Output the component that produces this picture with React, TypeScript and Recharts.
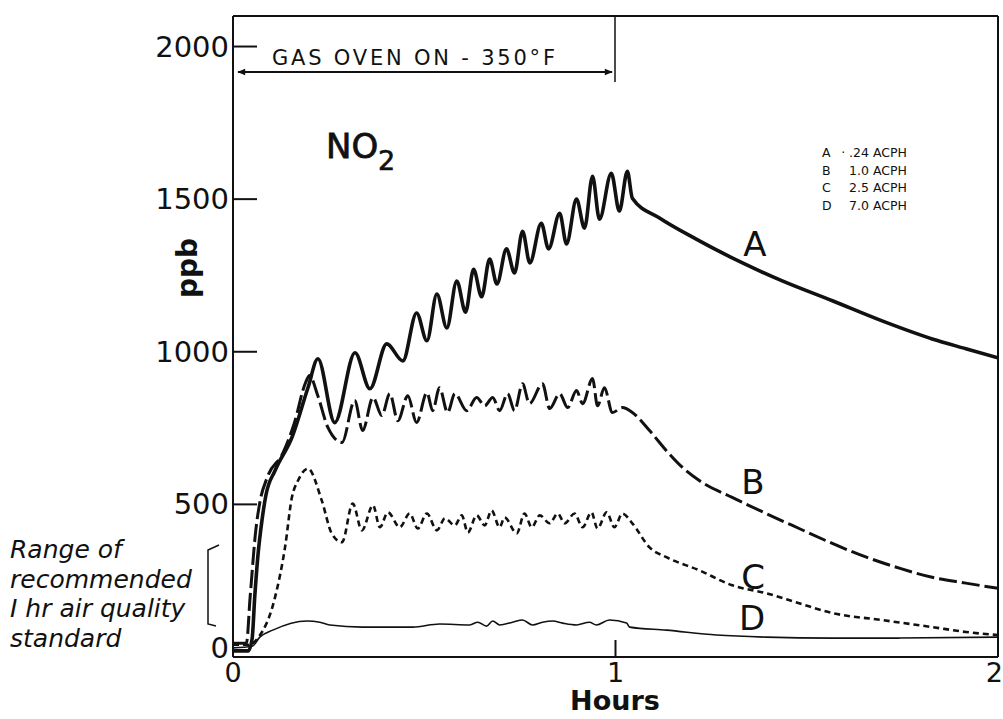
import { LineChart, Line, XAxis, YAxis } from "recharts"

// hours vs ppb
const seriesA: [number, number][] = [
  [0, 20], [0.04, 20], [0.05, 60], [0.057, 200], [0.065, 330], [0.076, 450], [0.086, 530],
  [0.11, 611], [0.154, 719], [0.196, 882], [0.222, 977], [0.266, 768], [0.319, 997],
  [0.358, 879], [0.402, 1026], [0.444, 970], [0.48, 1127], [0.507, 1036], [0.533, 1189],
  [0.559, 1078], [0.585, 1232], [0.608, 1130], [0.629, 1270], [0.65, 1180], [0.671, 1304],
  [0.69, 1222], [0.715, 1337], [0.736, 1258], [0.757, 1395], [0.776, 1291], [0.806, 1421],
  [0.825, 1337], [0.854, 1454], [0.872, 1353], [0.898, 1500], [0.919, 1405], [0.94, 1575],
  [0.958, 1434], [0.989, 1585], [1.01, 1461], [1.031, 1591], [1.044, 1503], [1.115, 1438],
  [1.211, 1369], [1.332, 1291], [1.436, 1232], [1.567, 1167], [1.697, 1101], [1.828, 1042],
  [1.916, 1010], [2.0, 980],
]

const seriesB: [number, number][] = [
  [0, 45], [0.035, 45], [0.045, 200], [0.06, 420], [0.07, 505], [0.09, 590], [0.13, 667],
  [0.16, 765], [0.19, 900], [0.2, 922], [0.222, 855], [0.248, 752], [0.285, 703], [0.318, 840],
  [0.339, 742], [0.366, 850], [0.389, 791], [0.41, 863], [0.431, 774], [0.457, 856],
  [0.48, 768], [0.507, 866], [0.522, 807], [0.54, 882], [0.561, 801], [0.58, 863],
  [0.611, 807], [0.637, 850], [0.658, 823], [0.679, 850], [0.697, 807], [0.718, 863],
  [0.736, 807], [0.757, 895], [0.775, 830], [0.809, 895], [0.828, 814], [0.854, 863],
  [0.875, 817], [0.898, 873], [0.914, 830], [0.94, 912], [0.953, 823], [0.971, 882],
  [0.992, 801], [1.018, 817], [1.044, 801], [1.089, 742], [1.133, 676], [1.175, 621],
  [1.219, 578], [1.305, 523], [1.394, 470], [1.48, 421], [1.567, 372], [1.656, 327],
  [1.742, 291], [1.828, 261], [1.916, 242], [2.0, 225],
]

const seriesC: [number, number][] = [
  [0, 40], [0.04, 40], [0.065, 62], [0.11, 196], [0.136, 359], [0.154, 523], [0.17, 578],
  [0.196, 617], [0.232, 513], [0.258, 405], [0.285, 376], [0.313, 503], [0.337, 415],
  [0.366, 497], [0.384, 425], [0.405, 474], [0.436, 425], [0.462, 470], [0.483, 421],
  [0.507, 470], [0.533, 415], [0.554, 454], [0.58, 431], [0.598, 464], [0.614, 408],
  [0.637, 464], [0.658, 431], [0.676, 480], [0.697, 425], [0.71, 457], [0.742, 405],
  [0.762, 470], [0.781, 425], [0.802, 464], [0.828, 438], [0.849, 470], [0.867, 438],
  [0.893, 470], [0.914, 425], [0.937, 474], [0.953, 421], [0.977, 474], [0.997, 425],
  [1.018, 470], [1.044, 438], [1.089, 359], [1.133, 327], [1.219, 284], [1.305, 235],
  [1.394, 209], [1.48, 176], [1.567, 144], [1.697, 121], [1.828, 98], [1.916, 82], [2.0, 72],
]

const seriesD: [number, number][] = [
  [0, 30], [0.05, 35], [0.07, 65], [0.104, 88], [0.193, 118], [0.227, 114], [0.253, 105],
  [0.339, 98], [0.47, 98], [0.54, 108], [0.619, 105], [0.64, 114], [0.663, 101], [0.679, 118],
  [0.697, 105], [0.731, 114], [0.757, 121], [0.783, 105], [0.809, 114], [0.836, 118],
  [0.862, 111], [0.898, 105], [0.932, 114], [0.95, 105], [0.984, 121], [1.029, 111],
  [1.037, 98], [1.133, 88], [1.264, 72], [1.394, 65], [1.567, 62], [1.742, 62], [2.0, 65],
]

const hourTicks = [0, 1, 2]
const ppbTicks = [0, 500, 1000, 1500, 2000]
const rightTicks = [500, 1000, 1500]
const legendRows = [
  ["A", "· .24", "ACPH"],
  ["B", "1.0", "ACPH"],
  ["C", "2.5", "ACPH"],
  ["D", "7.0", "ACPH"],
]
const noteLines = ["Range of", "recommended", "I hr air quality", "standard"]

const ink = "#111"
const font = "DejaVu Sans"

const toRows = (pts: [number, number][]) => pts.map(([h, ppb]) => ({ h, ppb }))

function LeftTick({ x, y, payload }: any) {
  const v = payload.value
  return (
    <g>
      {v !== 0 && <line x1={x} x2={x + 24} y1={y} y2={y} stroke={ink} strokeWidth={2} />}
      <text x={x - 4} y={v === 0 ? y - 9 : y} textAnchor="end" dominantBaseline="central"
        fontSize={29} fontFamily={font} fill={ink}>{v}</text>
    </g>
  )
}

function RightTick({ x, y }: any) {
  return <line x1={x - 11} x2={x} y1={y} y2={y} stroke={ink} strokeWidth={2} />
}

function BottomTick({ x, y, payload }: any) {
  const v = payload.value
  return (
    <g>
      {v === 1 && <line x1={x} x2={x} y1={y - 17} y2={y} stroke={ink} strokeWidth={2} />}
      <text x={v === 2 ? 1003 : x} y={y + 15} textAnchor={v === 2 ? "end" : "middle"}
        dominantBaseline="central" fontSize={27} fontFamily={font} fill={ink}>{v}</text>
    </g>
  )
}

export default function App() {
  return (
    <div style={{ position: "absolute", left: 0, top: 0, background: "#fff" }}>
      <LineChart width={1003} height={719} margin={{ top: 0, right: 0, bottom: 0, left: 0 }}>
        <defs>
          <marker id="arr" viewBox="0 0 10 10" refX="9" refY="5" markerWidth="12" markerHeight="8"
            orient="auto-start-reverse" markerUnits="userSpaceOnUse">
            <path d="M0,1 L10,5 L0,9 z" fill={ink} />
          </marker>
        </defs>
        <XAxis dataKey="h" type="number" domain={[0, 2]} ticks={hourTicks} height={62}
          axisLine={{ stroke: ink, strokeWidth: 2 }} tickLine={false} tickSize={0} tickMargin={0}
          tick={<BottomTick />} allowDataOverflow />
        <XAxis xAxisId="top" orientation="top" type="number" domain={[0, 2]} height={16}
          axisLine={{ stroke: ink, strokeWidth: 2 }} tick={false} tickLine={false} />
        <YAxis type="number" domain={[0, 2100]} ticks={ppbTicks} width={233}
          axisLine={{ stroke: ink, strokeWidth: 2 }} tickLine={false} tickSize={0} tickMargin={0}
          tick={<LeftTick />} allowDataOverflow />
        <YAxis yAxisId="right" orientation="right" type="number" domain={[0, 2100]} ticks={rightTicks}
          width={5} axisLine={{ stroke: ink, strokeWidth: 2 }} tickLine={false} tickSize={0}
          tickMargin={0} tick={<RightTick />} />

        <Line data={toRows(seriesD)} dataKey="ppb" type="monotone" stroke={ink} strokeWidth={1.6}
          dot={false} isAnimationActive={false} />
        <Line data={toRows(seriesC)} dataKey="ppb" type="monotone" stroke={ink} strokeWidth={2.6}
          strokeDasharray="6 4" dot={false} isAnimationActive={false} />
        <Line data={toRows(seriesB)} dataKey="ppb" type="monotone" stroke={ink} strokeWidth={3}
          strokeDasharray="18 5" dot={false} isAnimationActive={false} />
        <Line data={toRows(seriesA)} dataKey="ppb" type="monotone" stroke={ink} strokeWidth={3.6}
          dot={false} isAnimationActive={false} />

        {/* oven period marker */}
        <line x1={615} x2={615} y1={16} y2={82} stroke={ink} strokeWidth={1.5} />
        <line x1={238} x2={612} y1={72} y2={72} stroke={ink} strokeWidth={2}
          markerStart="url(#arr)" markerEnd="url(#arr)" />
        <text x={272} y={65} fontSize={21} fontFamily={font} fill={ink} textLength={283}
          lengthAdjust="spacing">GAS OVEN ON - 350°F</text>

        <text x={326} y={158} fontSize={34} fontFamily={font} fill={ink} stroke={ink}
          strokeWidth={0.8}>NO</text>
        <text x={378} y={170} fontSize={27} fontFamily={font} fill={ink} stroke={ink}
          strokeWidth={0.6}>2</text>

        {legendRows.map(([k, v, u], i) => (
          <g key={k} fontSize={12.5} fontFamily={font} fill={ink}>
            <text x={822} y={157 + i * 17.6}>{k}</text>
            <text x={869} y={157 + i * 17.6} textAnchor="end">{v}</text>
            <text x={873} y={157 + i * 17.6}>{u}</text>
          </g>
        ))}

        <text x={755} y={256} textAnchor="middle" fontSize={34} fontFamily={font} fill={ink}>A</text>
        <text x={753} y={494} textAnchor="middle" fontSize={34} fontFamily={font} fill={ink}>B</text>
        <text x={753} y={589} textAnchor="middle" fontSize={34} fontFamily={font} fill={ink}>C</text>
        <text x={752} y={630} textAnchor="middle" fontSize={34} fontFamily={font} fill={ink}>D</text>

        <text x={615} y={710} textAnchor="middle" fontSize={27} fontWeight="bold" fontFamily={font}
          fill={ink}>Hours</text>
        <text x={187} y={268} textAnchor="middle" dominantBaseline="central" fontSize={28}
          fontWeight="bold" fontFamily={font} fill={ink} transform="rotate(-90 187 268)">ppb</text>

        {noteLines.map((t, i) => (
          <text key={t} x={10} y={558 + i * 29.5} fontSize={25} fontStyle="italic" fontFamily={font}
            fill={ink}>{t}</text>
        ))}
        <path d="M219,545 L208,550 L208,624 L216,626" fill="none" stroke={ink} strokeWidth={1.5} />
      </LineChart>
    </div>
  )
}
